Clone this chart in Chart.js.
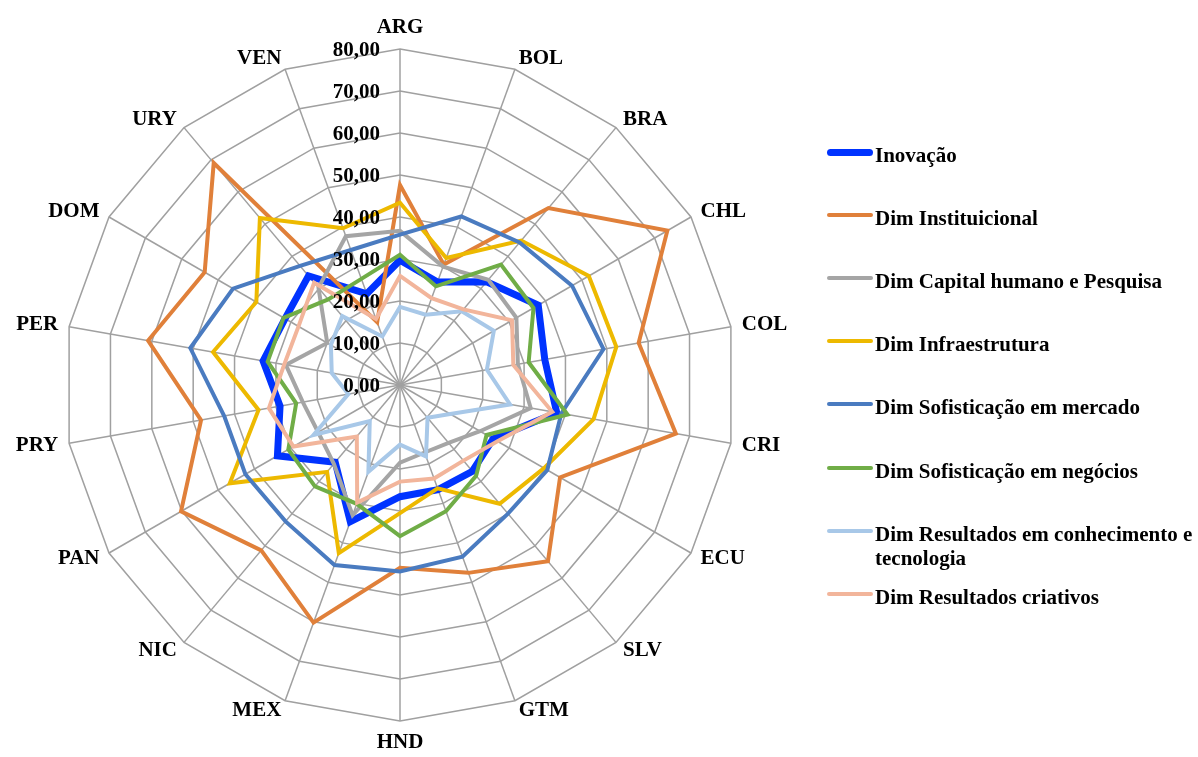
<!DOCTYPE html>
<html lang="pt">
<head>
<meta charset="utf-8">
<title>Inovação – dimensões por país</title>
<script src="https://cdn.jsdelivr.net/npm/chart.js@4.4.1/dist/chart.umd.min.js"></script>
<style>
  html, body { margin: 0; padding: 0; background: #fff; }
  #wrap { position: relative; width: 1198px; height: 757px; overflow: hidden; }
  #radar { position: absolute; left: 0; top: 0; }
  #legend { position: absolute; left: 0; top: 0; width: 1198px; height: 757px; pointer-events: none; }
  .item { position: absolute; left: 826px; width: 372px; height: 24px; }
  .swatch { position: absolute; left: 1px; width: 46px; }
  .name { position: absolute; left: 49px; top: 0; width: 330px;
          font: bold 21px/24px "Liberation Serif", "Times New Roman", serif; color: #000; }
</style>
</head>
<body>
<div id="wrap">
  <canvas id="radar" width="1198" height="757"></canvas>
  <div id="legend"></div>
</div>
<script>
// Countries around the web (clockwise from the top)
const countries = ['ARG', 'BOL', 'BRA', 'CHL', 'COL', 'CRI', 'ECU', 'SLV', 'GTM',
                   'HND', 'MEX', 'NIC', 'PAN', 'PRY', 'PER', 'DOM', 'URY', 'VEN'];

// Radial axis values
const tickValues = [0, 10, 20, 30, 40, 50, 60, 70, 80];

// Scores per dimension, in the order of `countries`
const inovacao      = [29.7, 26.1, 32.1, 38.0, 35.0, 37.9, 25.6, 26.8, 26.5, 26.6, 34.6, 24.0, 33.7, 29.0, 33.1, 31.6, 33.9, 23.1];
const institucional = [47.6, 30.5, 55.0, 73.5, 57.7, 66.7, 44.0, 54.8, 47.6, 43.5, 60.2, 51.4, 60.2, 48.1, 60.9, 53.7, 69.0, 15.9];
const capitalHumano = [36.7, 30.0, 32.7, 32.0, 28.5, 31.6, 22.0, 18.0, 17.1, 18.5, 33.0, 24.5, 22.5, 23.5, 27.6, 20.0, 30.2, 37.7];
const infraestrutura= [43.4, 32.2, 44.9, 51.9, 52.3, 46.8, 39.6, 36.9, 26.2, 30.5, 42.6, 27.0, 46.8, 34.2, 45.2, 39.5, 51.9, 39.7];
const sofMercado    = [35.8, 42.7, 44.3, 47.3, 49.2, 39.0, 40.5, 40.0, 43.5, 44.4, 45.6, 42.4, 42.5, 42.5, 50.7, 45.9, 37.0, 34.2];
const sofNegocios   = [31.0, 25.0, 37.4, 36.7, 31.1, 40.5, 23.8, 28.2, 32.0, 36.0, 30.1, 31.5, 30.7, 25.1, 32.0, 32.0, 26.6, 26.9];
const resConhecimento = [18.6, 17.8, 22.9, 25.8, 21.0, 26.6, 13.8, 10.2, 18.1, 14.2, 22.0, 11.2, 23.8, 12.5, 16.5, 19.0, 21.4, 12.3];
const resCriativos  = [26.0, 22.0, 23.5, 30.8, 27.4, 36.8, 26.8, 23.5, 23.7, 23.0, 29.8, 16.0, 29.3, 31.7, 28.0, 27.9, 31.8, 16.7];

const seriesNames = ['Inovação', 'Dim Instituicional', 'Dim Capital humano e Pesquisa',
                     'Dim Infraestrutura', 'Dim Sofisticação em mercado',
                     'Dim Sofisticação em negócios',
                     'Dim Resultados em conhecimento e tecnologia', 'Dim Resultados criativos'];
const seriesValues = [inovacao, institucional, capitalHumano, infraestrutura,
                      sofMercado, sofNegocios, resConhecimento, resCriativos];

// Line look of each series
const seriesStyles = [
  { color: '#0033FF', width: 7 },
  { color: '#E0803A', width: 4 },
  { color: '#A5A5A5', width: 4 },
  { color: '#EDB900', width: 4 },
  { color: '#4A7BC0', width: 4 },
  { color: '#70AD47', width: 4 },
  { color: '#A8C8E8', width: 4 },
  { color: '#F2B59B', width: 4 }
];

const labelFont = 'bold 21px "Liberation Serif", "Times New Roman", serif';
const gridColor = '#A0A0A0';

const datasets = seriesNames.map((name, i) => ({
  label: name,
  data: seriesValues[i],
  borderColor: seriesStyles[i].color,
  backgroundColor: seriesStyles[i].color,
  borderWidth: seriesStyles[i].width,
  borderJoinStyle: 'miter',
  fill: false,
  pointRadius: 0,
  pointHoverRadius: 0,
  // later series are painted above earlier ones
  order: seriesNames.length - i
}));

// Country names outside the web and value labels beside the first spoke
const axisText = {
  id: 'axisText',
  afterDatasetsDraw(chart) {
    const r = chart.scales.r;
    const ctx = chart.ctx;
    ctx.save();
    ctx.font = labelFont;
    ctx.fillStyle = '#000';
    const n = r._pointLabels.length;
    r._pointLabels.forEach((name, i) => {
      const p = r.getPointPosition(i, r.drawingArea + 11);
      const deg = Math.round(i * 360 / n);
      if (deg === 0) { ctx.textAlign = 'center'; ctx.textBaseline = 'bottom'; }
      else if (deg === 180) { ctx.textAlign = 'center'; ctx.textBaseline = 'top'; }
      else if (deg < 180) { ctx.textAlign = 'left'; ctx.textBaseline = 'middle'; }
      else { ctx.textAlign = 'right'; ctx.textBaseline = 'middle'; }
      ctx.fillText(name, p.x, p.y);
    });
    ctx.textAlign = 'right';
    ctx.textBaseline = 'middle';
    r.ticks.forEach(t => {
      const y = r.yCenter - r.getDistanceFromCenterForValue(t.value);
      ctx.fillText(t.label, r.xCenter - 20, y + 2);
    });
    ctx.restore();
  }
};

const chart = new Chart(document.getElementById('radar'), {
  type: 'radar',
  data: { labels: countries, datasets },
  options: {
    responsive: false,
    animation: false,
    plugins: { legend: { display: false }, tooltip: { enabled: false } },
    elements: { line: { tension: 0 } },
    scales: {
      r: {
        min: tickValues[0],
        max: tickValues[tickValues.length - 1],
        ticks: {
          display: false,
          stepSize: tickValues[1] - tickValues[0],
          callback: v => v.toFixed(2).replace('.', ',')
        },
        pointLabels: { display: false },
        grid: { color: gridColor, lineWidth: 1.5 },
        angleLines: { color: gridColor, lineWidth: 1.5 },
        // fixed centre and radius, leaving room for the names and the legend
        afterFit(scale) {
          scale.xCenter = 400;
          scale.yCenter = 385;
          scale.drawingArea = 336;
        }
      }
    }
  },
  plugins: [axisText]
});

// Legend built from the chart's datasets
const legend = document.getElementById('legend');
chart.data.datasets.forEach((ds, k) => {
  const item = document.createElement('div');
  item.className = 'item';
  item.style.top = (143 + 63.1 * k) + 'px';
  const sw = document.createElement('span');
  sw.className = 'swatch';
  sw.style.background = ds.borderColor;
  sw.style.height = ds.borderWidth + 'px';
  sw.style.top = (9 - ds.borderWidth / 2) + 'px';
  sw.style.borderRadius = (ds.borderWidth / 2) + 'px';
  const txt = document.createElement('span');
  txt.className = 'name';
  txt.textContent = ds.label;
  item.appendChild(sw);
  item.appendChild(txt);
  legend.appendChild(item);
});
</script>
</body>
</html>
